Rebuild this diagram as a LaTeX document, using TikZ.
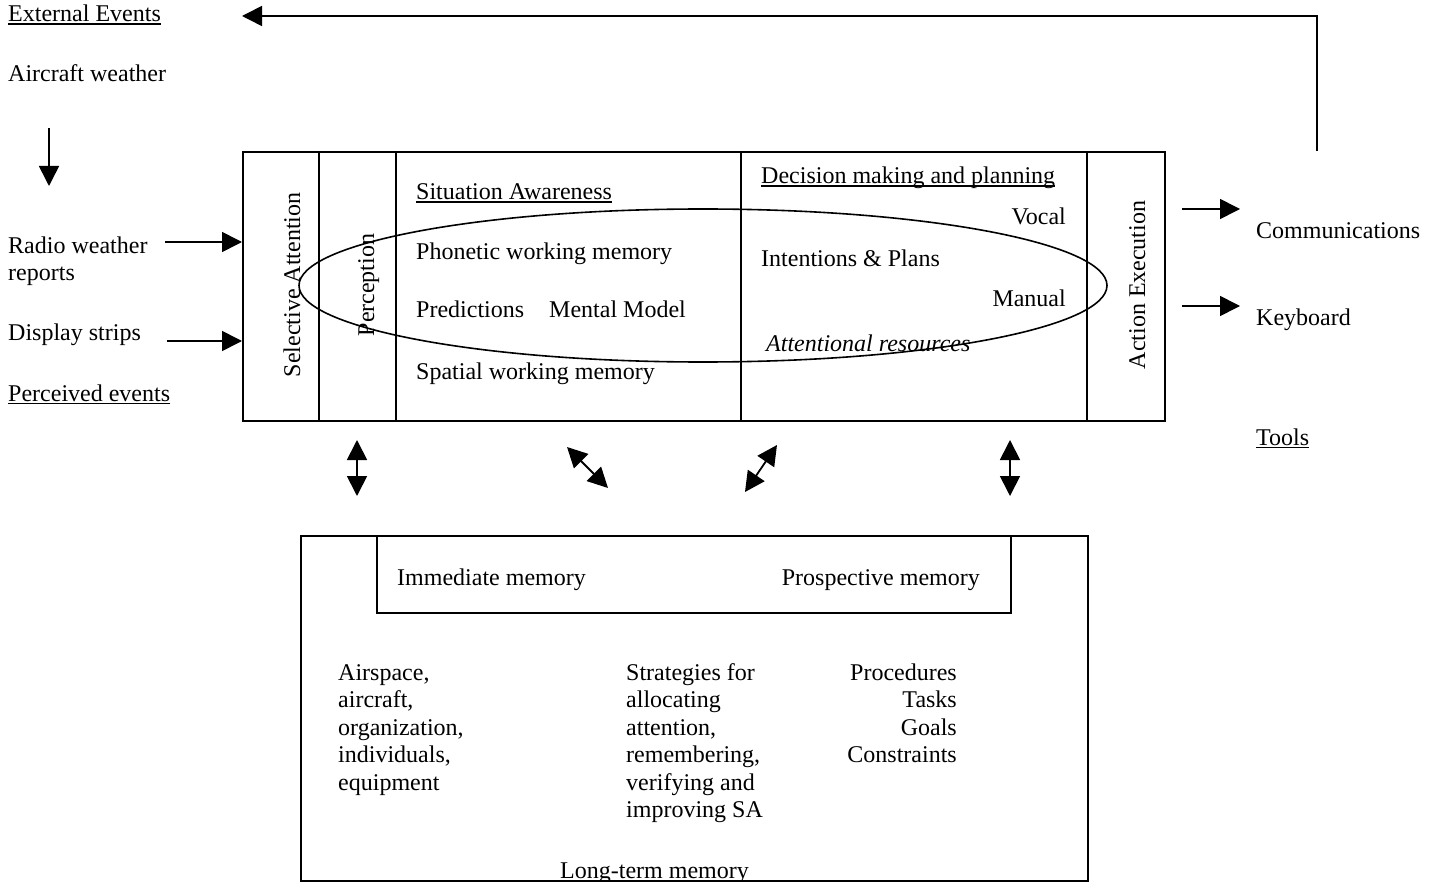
\documentclass[tikz,border=0pt]{standalone}
\usepackage{fontspec}
\setmainfont{Liberation Serif}
\usetikzlibrary{arrows.meta}
\newcommand\myul[1]{\setbox0\hbox{#1}\rlap{\rule[-2.8pt]{\wd0}{1.3pt}}\box0}
\tikzset{
  txt/.style={inner sep=0pt, anchor=base west, font=\fontsize{24}{27.5}\selectfont, align=left},
  rtxt/.style={inner sep=0pt, anchor=base east, font=\fontsize{24}{27.5}\selectfont, align=right},
  vtxt/.style={inner sep=0pt, anchor=base, rotate=90, font=\fontsize{24}{27.5}\selectfont},
  ln/.style={line width=1.6pt},
  arr/.style={ln, -{Triangle[length=20pt,width=20pt]}},
  darr/.style={line width=1.8pt, {Triangle[length=20pt,width=20pt]}-{Triangle[length=20pt,width=20pt]}},
  box/.style={draw, ln, inner sep=0pt, anchor=north west}
}
\begin{document}
\begin{tikzpicture}[x=1pt,y=-1pt]
\useasboundingbox (0,0) rectangle (1437,882);
% main box
\node[box, minimum width=922pt, minimum height=269pt] (main) at (242,151) {};
\draw[ln] (319,151) -- (319,420);
\draw[ln] (396,151) -- (396,420);
\draw[ln] (741,151) -- (741,420);
\draw[ln] (1087,151) -- (1087,420);
% ellipse
\draw[ln] (703,285.5) ellipse [x radius=404, y radius=76.5];
% lower box
\node[box, minimum width=787pt, minimum height=345pt] (ltm) at (300,535) {};
\node[box, minimum width=634pt, minimum height=77pt] (imm) at (376,535) {};
% left texts
\node[txt] (ext) at (8,22) {\myul{External Events}};
\node[txt] (acw) at (8,82) {Aircraft weather};
\node[txt] (radio) at (8,281) {Radio weather\\reports};
\node[txt] (disp) at (8,341) {Display strips};
\node[txt] (perc) at (8,401) {\myul{Perceived events}};
% rotated labels
\node[vtxt] (selatt) at (300,285) {Selective Attention};
\node[vtxt] (percp) at (374,285) {Perception};
\node[vtxt] (actex) at (1145,285) {Action Execution};
% SA column
\node[txt] (sa) at (416,200) {\myul{Situation Awareness}};
\node[txt] (phon) at (416,260) {Phonetic working memory};
\node[txt] (pred) at (416,318) {Predictions\hspace{25pt}Mental Model};
\node[txt] (spat) at (416,379) {Spatial working memory};
% decision column
\node[txt] (dm) at (761,184) {\myul{Decision making and planning}};
\node[rtxt] (vocal) at (1066,225) {Vocal};
\node[txt] (intent) at (761,267) {Intentions \& Plans};
\node[rtxt] (manual) at (1066,307) {Manual};
\node[txt] (attn) at (766,352) {\itshape Attentional resources};
% right texts
\node[txt] (comm) at (1256,239) {Communications};
\node[txt] (keyb) at (1256,326) {Keyboard};
\node[txt] (tools) at (1256,445) {\myul{Tools}};
% memory texts
\node[txt] (immt) at (397,585) {Immediate memory};
\node[rtxt] (prosp) at (980,585) {Prospective memory};
\node[txt] (airsp) at (338,790) {Airspace,\\aircraft,\\organization,\\individuals,\\equipment};
\node[txt] (strat) at (626,817.5) {Strategies for\\allocating\\attention,\\remembering,\\verifying and\\improving SA};
\node[rtxt] (proc) at (957,762.5) {Procedures\\Tasks\\Goals\\Constraints};
\node[txt] (ltmt) at (560,878) {Long-term memory};
% arrows
\coordinate (fb) at (1317,151);
\draw[arr] (fb) -- (1317,16) -- (main.west |- 0,16);
\coordinate (dA) at (49,128); \coordinate (dB) at (49,186);
\draw[arr] (dA) -- (dB);
\coordinate (rA) at (165,242);
\draw[arr] (rA) -- (main.west |- rA);
\coordinate (sA) at (167,341);
\draw[arr] (sA) -- (main.west |- sA);
\coordinate (cA) at (1182,209); \coordinate (cB) at (1240,209);
\draw[arr] (cA) -- (cB);
\coordinate (kA) at (1182,306); \coordinate (kB) at (1240,306);
\draw[arr] (kA) -- (kB);
% double arrows
\coordinate (v1a) at (357,440); \coordinate (v1b) at (357,496);
\draw[darr] (v1a) -- (v1b);
\coordinate (v2a) at (567,447); \coordinate (v2b) at (608,488);
\draw[darr] (v2a) -- (v2b);
\coordinate (v3a) at (777,445); \coordinate (v3b) at (745,492);
\draw[darr] (v3a) -- (v3b);
\coordinate (v4a) at (1010,440); \coordinate (v4b) at (1010,496);
\draw[darr] (v4a) -- (v4b);
\end{tikzpicture}
\end{document}
